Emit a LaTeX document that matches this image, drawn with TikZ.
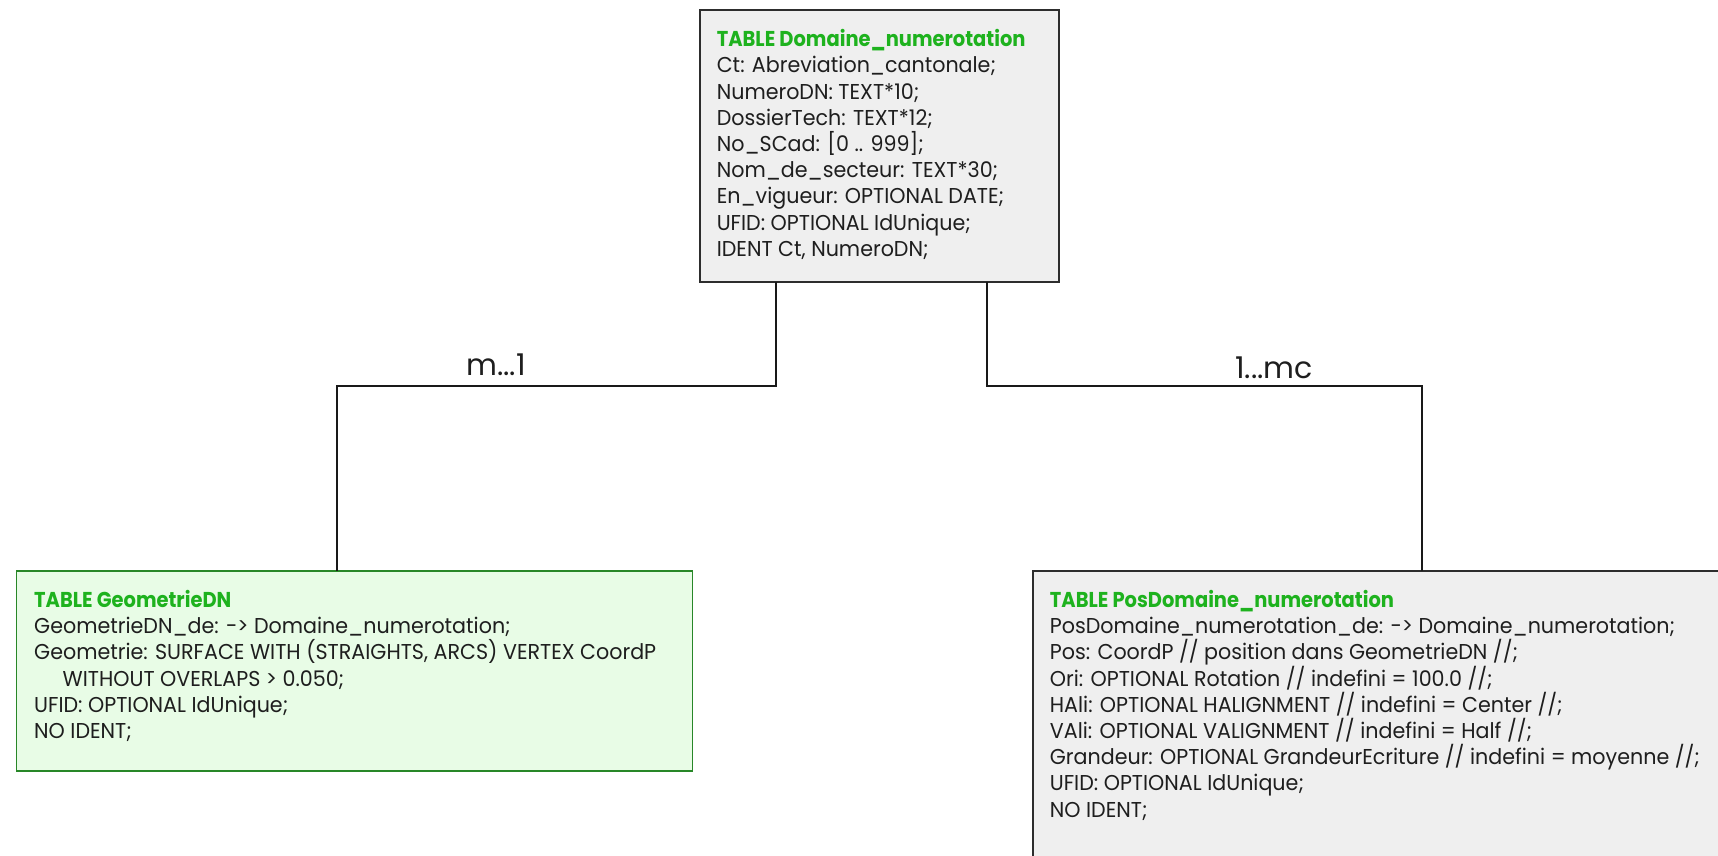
\documentclass[tikz,border=0pt]{standalone}
\usepackage{fontspec}
\setmainfont{Poppins}[FakeStretch=0.96]
\newfontfamily\ttlfont{Poppins}[FakeStretch=0.905]
\newfontfamily\lblfont{Poppins}
\definecolor{boxgray}{RGB}{239,239,239}
\definecolor{boxline}{RGB}{45,45,45}
\definecolor{gfill}{RGB}{232,252,230}
\definecolor{gline}{RGB}{40,135,40}
\definecolor{ttlgreen}{RGB}{30,178,30}
\definecolor{txtcol}{RGB}{30,30,30}
\newcommand\tlines[1]{\vtop{\baselineskip=26.2pt\lineskiplimit=-100pt\halign{##\hfil\cr#1\crcr}}}
\newcommand\ttl[1]{{\ttlfont\bfseries\color{ttlgreen}#1}}
\begin{document}
\begin{tikzpicture}[x=1pt,y=-1pt,
  box/.style={draw=boxline, line width=1.2pt, fill=boxgray, inner sep=0pt, outer sep=0pt, anchor=north west},
  gbox/.style={box, draw=gline, fill=gfill},
  txt/.style={anchor=base west, inner sep=0pt, text=txtcol, font=\fontsize{21.5pt}{26.2pt}\selectfont},
  lbl/.style={anchor=base, inner sep=0pt, text=txtcol, font=\lblfont\fontsize{30pt}{32pt}\selectfont},
  conn/.style={draw=black!90, line width=1.9pt}]
\useasboundingbox (0,0) rectangle (1718,855);
\clip (0,0) rectangle (1718,855);
\fill[white] (0,0) rectangle (1718,855);
% boxes
\node[box, minimum width=359pt, minimum height=272pt] (dom) at (700,10) {};
\node[gbox, minimum width=676pt, minimum height=200pt] (geo) at (16.5,571) {};
\node[box, minimum width=760pt, minimum height=360pt] (pos) at (1033,571) {};
% texts
\node[txt] (domt) at (716.6,46.7) {\tlines{\ttl{TABLE Domaine\_numerotation}\cr
Ct: Abreviation\_cantonale;\cr
NumeroDN: TEXT*10;\cr
DossierTech: TEXT*12;\cr
No\_SCad: [0 .. 999];\cr
Nom\_de\_secteur: TEXT*30;\cr
En\_vigueur: OPTIONAL DATE;\cr
UFID: OPTIONAL IdUnique;\cr
IDENT Ct, NumeroDN;}};
\node[txt] (geot) at (34,607.5) {\tlines{\ttl{TABLE GeometrieDN}\cr
GeometrieDN\_de: -> Domaine\_numerotation;\cr
Geometrie: SURFACE WITH (STRAIGHTS, ARCS) VERTEX CoordP\cr
\hspace*{28.5pt}WITHOUT OVERLAPS > 0.050;\cr
UFID: OPTIONAL IdUnique;\cr
NO IDENT;}};
\node[txt] (post) at (1049.7,607.5) {\tlines{\ttl{TABLE PosDomaine\_numerotation}\cr
PosDomaine\_numerotation\_de: -> Domaine\_numerotation;\cr
Pos: CoordP // position dans GeometrieDN //;\cr
Ori: OPTIONAL Rotation // indefini = 100.0 //;\cr
HAli: OPTIONAL HALIGNMENT // indefini = Center //;\cr
VAli: OPTIONAL VALIGNMENT // indefini = Half //;\cr
Grandeur: OPTIONAL GrandeurEcriture // indefini = moyenne //;\cr
UFID: OPTIONAL IdUnique;\cr
NO IDENT;}};
% connectors
\coordinate (a1) at (776,386);
\coordinate (a2) at (336.7,386);
\coordinate (b1) at (986.7,386);
\coordinate (b2) at (1421.7,386);
\draw[conn] (a1 |- dom.south) -- (a1) -- (a2) -- (a2 |- geo.north);
\draw[conn] (b1 |- dom.south) -- (b1) -- (b2) -- (b2 |- pos.north);
\node[lbl] (l1) at (496,375) {m...1};
\node[lbl] (l2) at (1274,378.3) {1...mc};
\end{tikzpicture}
\end{document}
